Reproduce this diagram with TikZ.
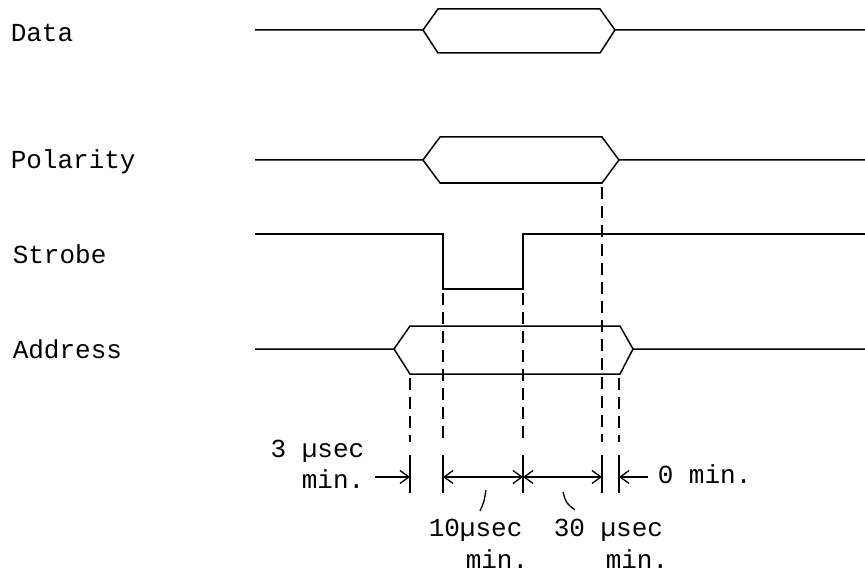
\documentclass[tikz,border=0pt]{standalone}
\usepackage{fontspec}
\setmonofont{Liberation Mono}
\usetikzlibrary{arrows.meta}

\begin{document}
\begin{tikzpicture}
  [x=1pt, y=-1pt, line width=1.5pt,
   lbl/.style={inner sep=0pt, font=\fontsize{26}{30}\selectfont\ttfamily},
   guide/.style={line width=1.3pt, dash pattern=on 12pt off 7pt},
   tick/.style={line width=1.3pt},
   dim/.style={line width=1.3pt, >={Straight Barb[length=9pt,width=13pt]}}]
  \useasboundingbox (0,0) rectangle (865,575);

  \node[lbl, anchor=base west] (data) at (10,42) {Data};
  \node[lbl, anchor=base west] (pol) at (10,168) {Polarity};
  \node[lbl, anchor=base west] (strobe) at (12,263) {Strobe};
  \node[lbl, anchor=base west] (addr) at (12,358) {Address};

  % Data and Polarity
  \draw (255,30) -- (423,30) -- (438,9) -- (600,9) -- (615,30) -- (865,30);
  \draw (423,30) -- (438,53) -- (600,53) -- (615,30);
  \draw (255,160) -- (423,160) -- (440,137) -- (602,137) -- (619,160) -- (865,160);
  \draw (423,160) -- (440,183) -- (602,183) -- (619,160);
  % Strobe
  \draw (255,234) -- (443,234) -- (443,289) -- (523,289) -- (523,234) -- (865,234);
  % Address
  \draw (255,349) -- (394,349) -- (410,326) -- (620,326) -- (633,349) -- (865,349);
  \draw (394,349) -- (410,374) -- (620,374) -- (633,349);

  \foreach \x/\y in {410/374, 443/289, 523/289, 602/183, 619/374}
  {
    \draw[guide] (\x,\y+4) -- (\x,442);
    \draw[tick] (\x,455) -- (\x,493);
  }

  \coordinate (t1) at (410,477);
  \coordinate (t2) at (443,477);
  \coordinate (t3) at (523,477);
  \coordinate (t4) at (602,477);
  \coordinate (t5) at (619,477);
  \coordinate (fromleft) at (375,477);
  \coordinate (fromright) at (648,477);

  \node[lbl, anchor=base east] (three) at (365,457) {3 µsec};
  \node[lbl, anchor=base east] (threemin) at (365,488) {min.};
  \node[lbl, anchor=base west] (zero) at (657,483) {0 min.};
  \node[lbl, anchor=base west] (ten) at (428,536) {10µsec};
  \node[lbl, anchor=base west] (tenmin) at (465,568) {min.};
  \node[lbl, anchor=base west] (thirty) at (553,536) {30 µsec};
  \node[lbl, anchor=base west] (thirtymin) at (605,568) {min.};

  \draw[dim, ->] (fromleft) -- (t1);
  \draw[dim, <->] (t2) -- (t3);
  \draw[dim, <->] (t3) -- (t4);
  \draw[dim, ->] (fromright) -- (t5);

  \draw[tick] (480,511) .. controls (484,502) .. (486,490);
  \draw[tick] (563,492) .. controls (566,503) .. (575,510);
\end{tikzpicture}
\end{document}
